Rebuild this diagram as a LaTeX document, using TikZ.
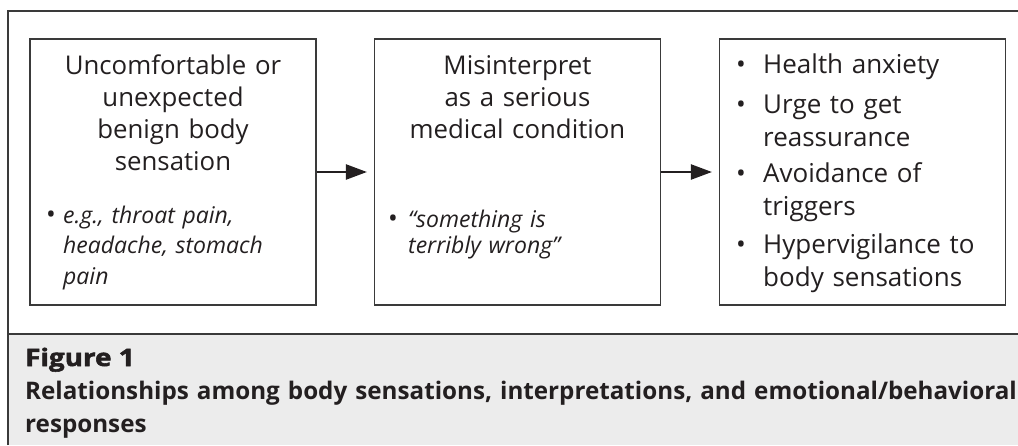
\documentclass[tikz,border=0pt]{standalone}
\usepackage{fontspec}
\setmainfont{Open Sans}
\newfontfamily\figfont[FakeBold=2.2,FakeStretch=1.16]{Open Sans}
\usetikzlibrary{arrows.meta}
\definecolor{textc}{HTML}{231F20}
\definecolor{linec}{HTML}{3A3A3A}
\definecolor{capbg}{HTML}{ECECEC}
\tikzset{
  box/.style={draw=linec, line width=1.1pt, minimum width=286pt, minimum height=266pt, inner sep=0pt},
  title/.style={anchor=base, inner sep=0pt, text width=280pt, align=center, text=textc, font=\fontsize{25.8}{32}\selectfont},
  ital/.style={anchor=base west, inner sep=0pt, text width=250pt, align=left, text=textc, font=\fontsize{23}{30.5}\selectfont\itshape},
  itemtext/.style={anchor=base west, inner sep=0pt, text width=240pt, align=left, text=textc, font=\fontsize{26}{33}\selectfont},
  bul/.style={anchor=base, inner sep=0pt, text=textc, font=\fontsize{26}{26}\selectfont},
  flow/.style={draw=textc, line width=2.2pt, -{Triangle[length=21pt,width=15pt]}, shorten >=7pt},
  frame/.style={draw=linec, line width=1.6pt},
}
\begin{document}
\begin{tikzpicture}[x=1pt,y=-1pt]
\useasboundingbox (0,0) rectangle (1018,445);
% caption background and frame
\fill[capbg] (8,334) rectangle (1018,445);
\draw[frame] (8,445) -- (8,11) -- (1018,11);
\draw[draw=linec, line width=2.2pt] (8,334) -- (1018,334);
% boxes
\node[box] (b1) at (173,172) {};
\node[box] (b2) at (517.5,172) {};
\node[box] (b3) at (862.5,172) {};
% box 1 text
\node[title] (t1) at (173,74) {Uncomfortable or\\unexpected\\benign body\\sensation};
\node[bul] (d1) at (51,223) {•};
\node[ital] (e1) at (63,223) {e.g., throat pain,\\headache, stomach\\pain};
% box 2 text
\node[title] (t2) at (517.5,74) {Misinterpret\\as a serious\\medical condition};
\node[bul] (d2) at (393,227) {•};
\node[ital, font=\fontsize{23}{26.5}\selectfont\itshape] (e2) at (408,227) {“something is\\terribly wrong”};
% box 3 text
\node[bul] (d3a) at (741,73) {•};
\node[itemtext] (i1) at (763,73) {Health anxiety};
\node[bul] (d3b) at (741,113) {•};
\node[itemtext] (i2) at (763,113) {Urge to get\\reassurance};
\node[bul] (d3c) at (741,182) {•};
\node[itemtext] (i3) at (763,182) {Avoidance of\\triggers};
\node[bul] (d3d) at (741,253) {•};
\node[itemtext] (i4) at (763,253) {Hypervigilance to\\body sensations};
% arrows
\draw[flow] (b1.east) -- (b2.west);
\draw[flow] (b2.east) -- (b3.west);
% caption
\node[anchor=base west, inner sep=0pt, text=textc, font=\fontsize{24}{24}\selectfont\figfont\bfseries] (fig) at (25,366) {Figure 1};
\node[anchor=base west, inner sep=0pt, text width=1010pt, align=left, text=textc, font=\fontsize{24.2}{33}\selectfont\bfseries] (cap) at (25,399) {Relationships among body sensations, interpretations, and emotional/behavioral\\responses};
\end{tikzpicture}
\end{document}
